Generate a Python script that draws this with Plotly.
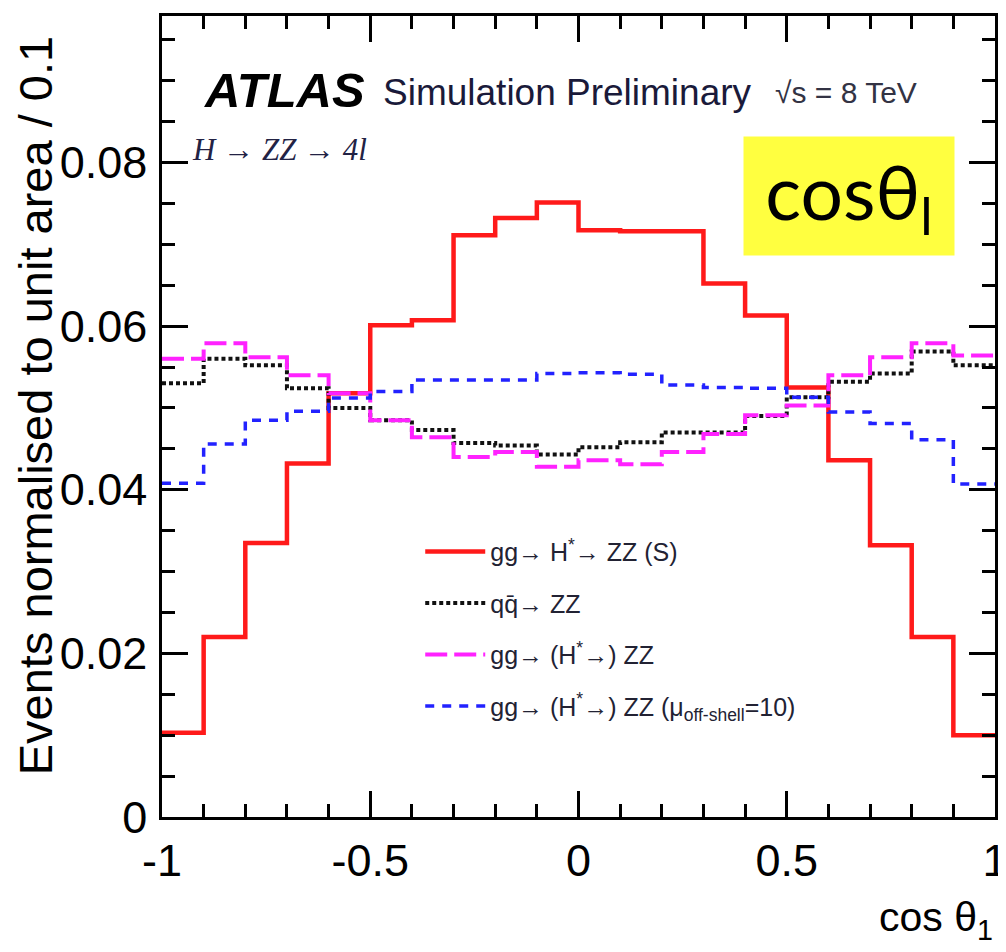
import plotly.graph_objects as go

# ---- data ----
bin_edges = [-1.0, -0.9, -0.8, -0.7, -0.6, -0.5, -0.4, -0.3, -0.2, -0.1, 0.0,
             0.1, 0.2, 0.3, 0.4, 0.5, 0.6, 0.7, 0.8, 0.9, 1.0]

signal_S = [0.0103, 0.0220, 0.0335, 0.0432, 0.0518, 0.0601, 0.0607, 0.0711, 0.0732, 0.0751,
            0.0717, 0.0716, 0.0716, 0.0652, 0.0613, 0.0525, 0.0436, 0.0332, 0.0220, 0.0100]
qqZZ = [0.0530, 0.0560, 0.0552, 0.0524, 0.0500, 0.0485, 0.0473, 0.0457, 0.0454, 0.0443,
        0.0452, 0.0458, 0.0470, 0.0470, 0.0490, 0.0513, 0.0532, 0.0542, 0.0569, 0.0552]
ggZZ = [0.0560, 0.0579, 0.0562, 0.0540, 0.0518, 0.0485, 0.0464, 0.0440, 0.0446, 0.0428,
        0.0436, 0.0431, 0.0446, 0.0468, 0.0491, 0.0503, 0.0540, 0.0562, 0.0579, 0.0564]
ggZZ_mu10 = [0.0408, 0.0456, 0.0485, 0.0496, 0.0512, 0.0520, 0.0534, 0.0534, 0.0534, 0.0542,
             0.0543, 0.0541, 0.0528, 0.0525, 0.0524, 0.0513, 0.0495, 0.0481, 0.0461, 0.0407]

series_names = ["gg→ H<sup>*</sup>→ ZZ (S)",
                "qq\u0304→ ZZ",
                "gg→ (H<sup>*</sup>→) ZZ",
                "gg→ (H<sup>*</sup>→) ZZ (μ<sub>off-shell</sub>=10)"]

x_ticks = [-1, -0.5, 0, 0.5, 1]
x_tick_labels = ["-1", "-0.5", "0", "0.5", "1"]
y_ticks = [0, 0.02, 0.04, 0.06, 0.08]
y_tick_labels = ["0", "0.02", "0.04", "0.06", "0.08"]

FONT = "Liberation Sans, Arial, sans-serif"

fig = go.Figure()

styles = [
    dict(color="#FF1A1A", width=4.5, dash="solid"),
    dict(color="#111111", width=4, dash="4px,3px"),
    dict(color="#FF22FF", width=4, dash="22px,7px"),
    dict(color="#2222FF", width=3.5, dash="9px,8px"),
]

for i, (vals, name, st) in enumerate(zip([signal_S, qqZZ, ggZZ, ggZZ_mu10], series_names, styles)):
    fig.add_trace(go.Scatter(
        x=bin_edges,
        y=vals + [vals[-1]],
        mode="lines",
        line=dict(shape="hv", **st),
        name=name,
        legendgroup=f"g{i}",
    ))

axis_common = dict(
    showgrid=False, zeroline=False, automargin=False,
    showline=True, linecolor="black", linewidth=2.5,
    mirror="ticks", ticks="inside", tickcolor="black", tickwidth=2.5,
    tickfont=dict(family=FONT, size=45, color="black"),
    ticklabeloverflow="allow",
)

fig.update_xaxes(
    range=[-1, 1],
    tickvals=x_ticks, ticktext=x_tick_labels,
    ticklen=26,
    minor=dict(dtick=0.1, tick0=-1, ticklen=13, ticks="inside", tickcolor="black", tickwidth=2.5),
    ticklabelstandoff=2,
    **axis_common,
)
fig.update_yaxes(
    range=[0, 0.0979],
    tickvals=y_ticks, ticktext=y_tick_labels,
    ticklen=26,
    minor=dict(dtick=0.005, tick0=0, ticklen=13, ticks="inside", tickcolor="black", tickwidth=2.5),
    ticklabelstandoff=3,
    **axis_common,
)

annotations = [
    dict(text="<b><i>ATLAS</i></b>", x=0.048, y=0.908, xref="paper", yref="paper",
         xanchor="left", yanchor="middle", showarrow=False,
         font=dict(family=FONT, size=49, color="black")),
    dict(text="Simulation Preliminary", x=0.263, y=0.905, xref="paper", yref="paper",
         xanchor="left", yanchor="middle", showarrow=False,
         font=dict(family=FONT, size=37, color="#1a1a3a")),
    dict(text="√s = 8 TeV", x=0.733, y=0.905, xref="paper", yref="paper",
         xanchor="left", yanchor="middle", showarrow=False,
         font=dict(family=FONT, size=30, color="#333344")),
    dict(text="<i>H → ZZ → 4l</i>", x=0.034, y=0.833, xref="paper", yref="paper",
         xanchor="left", yanchor="middle", showarrow=False,
         font=dict(family="Liberation Serif, Times New Roman, serif", size=31, color="#222244")),
    dict(text="cosθ<sub>l</sub>", x=0.8247, y=0.7753, xref="paper", yref="paper",
         xanchor="center", yanchor="middle", showarrow=False,
         width=210, height=118, bgcolor="#FFFF40", borderpad=0,
         font=dict(family="Lato, sans-serif", size=75, color="black")),
    dict(text="Events normalised to unit area / 0.1", x=-0.1525, y=0.514,
         xref="paper", yref="paper", textangle=-90,
         xanchor="center", yanchor="middle", showarrow=False,
         font=dict(family=FONT, size=47, color="black")),
    dict(text="cos θ<sub>1</sub>", x=1.0, y=-0.128, xref="paper", yref="paper",
         xanchor="right", yanchor="middle", showarrow=False,
         font=dict(family=FONT, size=41, color="black")),
]

# The page body has an 8px margin, so the figure is sized to fit the 1006x952 window.
fig.update_layout(
    width=998, height=944,
    margin=dict(l=154, r=11, t=8, b=135),
    paper_bgcolor="white", plot_bgcolor="white",
    showlegend=True,
    legend=dict(x=0.31, y=0.36, xanchor="left", yanchor="top",
                bgcolor="rgba(0,0,0,0)", font=dict(family=FONT, size=25, color="#222233"),
                tracegroupgap=16, itemwidth=60),
    annotations=annotations,
)

fig.write_html("out.html")
